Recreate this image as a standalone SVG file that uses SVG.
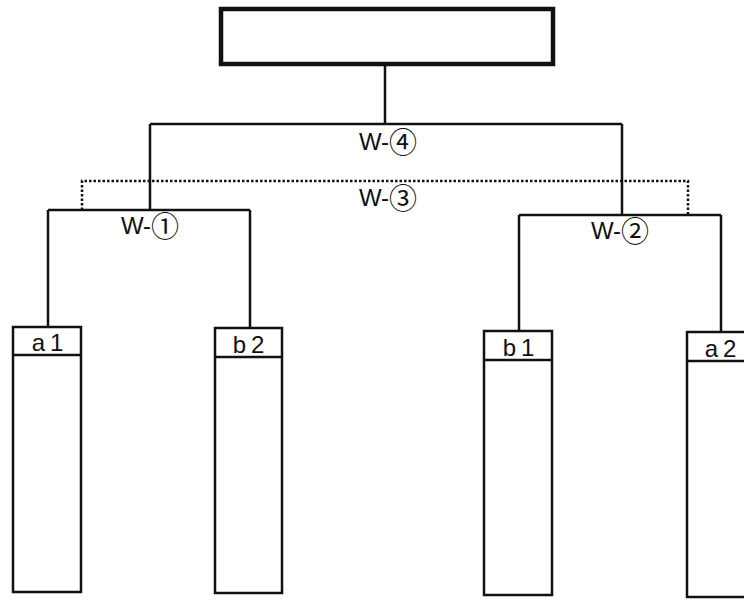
<svg xmlns="http://www.w3.org/2000/svg" width="744" height="601" viewBox="0 0 744 601">
<style>
.ln{fill:none;stroke:#111;stroke-width:2.5}
.dot{fill:none;stroke:#111;stroke-width:2.5;stroke-dasharray:2.5 2}
.box{fill:#fff;stroke:#111;stroke-width:2.5}
.wl{font-family:"Liberation Sans","DejaVu Sans",sans-serif;font-size:24px;fill:#111;text-anchor:middle}
.cd{font-family:"Noto Sans CJK JP","DejaVu Sans",sans-serif;font-size:28px}
.hl{font-family:"Liberation Sans","DejaVu Sans",sans-serif;font-size:24px;fill:#111;text-anchor:middle;letter-spacing:5px}
</style>
<rect width="744" height="601" fill="#fff"/>
<g id="connectors">
<path class="ln" d="M385,64 V124 M150,124 H622 M150,124 V210 M622,124 V215"/>
<path class="dot" d="M82,210 V181 H688 V215"/>
<path class="ln" d="M48,210 H250 M48,210 V327 M250,210 V328"/>
<path class="ln" d="M519,215 H721 M519,215 V331 M721,215 V332"/>
</g>
<g id="labels">
<text class="wl" x="388" y="150">W-<tspan class="cd" dy="3">④</tspan></text>
<text class="wl" x="388" y="206">W-<tspan class="cd" dy="3">③</tspan></text>
<text class="wl" x="150" y="234">W-<tspan class="cd" dy="3">①</tspan></text>
<text class="wl" x="620" y="239">W-<tspan class="cd" dy="3">②</tspan></text>
</g>
<g id="top">
<rect x="221" y="9" width="332" height="55" fill="#fff" stroke="#111" stroke-width="4.5"/>
</g>
<g id="a1">
<rect class="box" x="13" y="327" width="68" height="265"/>
<line class="ln" x1="13" y1="355" x2="81" y2="355"/>
<text class="hl" x="50" y="351">a1</text>
</g>
<g id="b2">
<rect class="box" x="215" y="328" width="67" height="265"/>
<line class="ln" x1="215" y1="357" x2="282" y2="357"/>
<text class="hl" x="251" y="353">b2</text>
</g>
<g id="b1">
<rect class="box" x="484" y="331" width="68" height="264"/>
<line class="ln" x1="484" y1="360" x2="552" y2="360"/>
<text class="hl" x="521" y="356">b1</text>
</g>
<g id="a2">
<rect class="box" x="687" y="332" width="70" height="265"/>
<line class="ln" x1="687" y1="361" x2="757" y2="361"/>
<text class="hl" x="723" y="357">a2</text>
</g>
</svg>
